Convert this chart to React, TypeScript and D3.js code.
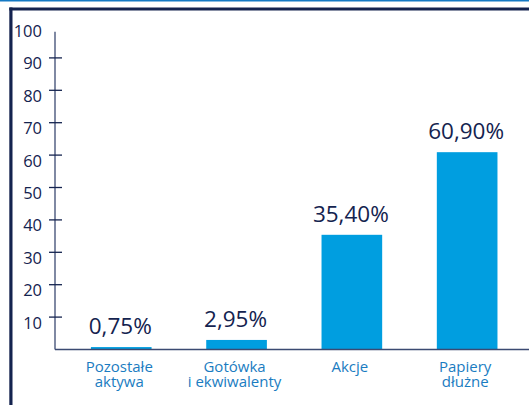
import React from "react";
import * as d3 from "d3";

const categories: string[][] = [
  ["Pozostałe", "aktywa"],
  ["Gotówka", "i ekwiwalenty"],
  ["Akcje"],
  ["Papiery", "dłużne"],
];
const values: number[] = [0.75, 2.95, 35.4, 60.9];
const valueLabels: string[] = ["0,75%", "2,95%", "35,40%", "60,90%"];
const yTicks: number[] = [10, 20, 30, 40, 50, 60, 70, 80, 90, 100];

const W = 529;
const H = 405;
const NAVY = "#14234f";
const AXIS = "#3b4a72";
const BAR = "#009ee0";
const CAT = "#1a7cc1";
const FONT = "'Open Sans', Lato, sans-serif";

export default function App() {
  const keys = categories.map((c) => c.join(" "));
  const x = d3
    .scaleBand<string>()
    .domain(keys)
    .range([63.6, 524.8])
    .paddingInner(0.474)
    .paddingOuter(0.237);
  const y = d3.scaleLinear().domain([0, 100]).range([349.5, 25.5]);
  const axisX = 55;

  return (
    <svg
      width={W}
      height={H}
      style={{ position: "absolute", left: 0, top: 0, background: "#fff" }}
      fontFamily={FONT}
    >
      {/* frame */}
      <rect x={0} y={0} width={W} height={1.5} fill="#1479c4" />
      <rect x={9.3} y={7.5} width={W - 9.3} height={3} fill={NAVY} />
      <rect x={9.3} y={7.5} width={3.2} height={H - 7.5} fill={NAVY} />

      {/* bars */}
      {values.map((v, i) => (
        <rect
          key={keys[i]}
          x={x(keys[i])}
          y={y(v)}
          width={x.bandwidth()}
          height={y(0) - y(v)}
          fill={BAR}
        />
      ))}

      {/* y axis */}
      <line x1={axisX} x2={axisX} y1={31.7} y2={y(0)} stroke={AXIS} strokeWidth={1.3} />
      {yTicks.map((t) => (
        <g key={t}>
          {t < 100 && (
            <line x1={49} x2={62} y1={y(t)} y2={y(t)} stroke={NAVY} strokeWidth={1.3} />
          )}
          <text
            x={42}
            y={y(t) + 11.5}
            textAnchor="end"
            fontSize={16.5}
            fill={NAVY}
          >
            {t}
          </text>
        </g>
      ))}

      {/* baseline */}
      <line x1={axisX} x2={W} y1={y(0)} y2={y(0)} stroke={AXIS} strokeWidth={1.5} />

      {/* value labels */}
      {values.map((v, i) => (
        <text
          key={"v" + i}
          x={(x(keys[i]) as number) + x.bandwidth() / 2 - 1}
          y={y(v) - 13}
          textAnchor="middle"
          fontSize={22.5}
          fill={NAVY}
        >
          {valueLabels[i]}
        </text>
      ))}

      {/* category labels */}
      {categories.map((lines, i) => (
        <text
          key={"c" + i}
          x={(x(keys[i]) as number) + x.bandwidth() / 2 - 2}
          y={371.5}
          textAnchor="middle"
          fontSize={15}
          fill={CAT}
        >
          {lines.map((l, j) => (
            <tspan key={j} x={(x(keys[i]) as number) + x.bandwidth() / 2 - 2} dy={j === 0 ? 0 : 15.5}>
              {l}
            </tspan>
          ))}
        </text>
      ))}
    </svg>
  );
}
